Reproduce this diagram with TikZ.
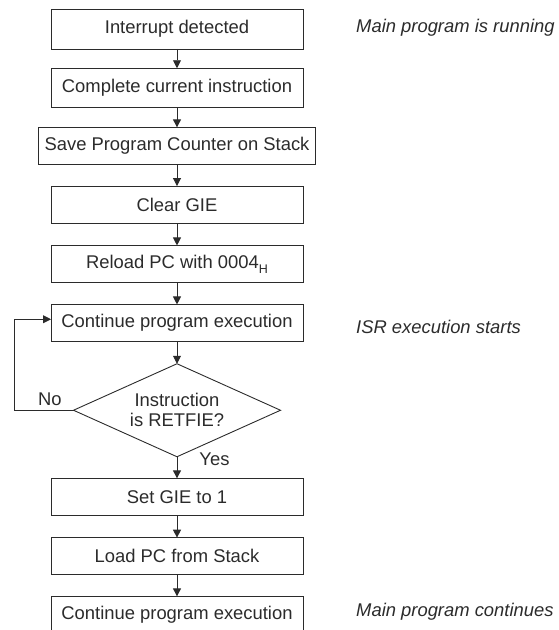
\documentclass[tikz,border=0pt]{standalone}
\usepackage{fontspec}
\setmainfont{Liberation Sans}
\usepackage{xcolor}
\usepackage{tikz}
\usetikzlibrary{positioning,shapes.geometric,arrows.meta}

\definecolor{ink}{HTML}{2B2B2B}

\newcommand{\hexsub}[1]{\raisebox{-5pt}{\fontsize{12.5}{12.5}\selectfont #1}}

\tikzset{
    stepbox/.style={draw=ink, line width=0.9pt, text=ink, minimum width=252pt, minimum height=37pt,
        inner xsep=6pt, inner ysep=3pt, outer sep=0pt, font=\fontsize{18.4}{20}\selectfont},
    decision/.style={draw=ink, line width=0.9pt, text=ink, diamond, aspect=2.23, inner sep=0pt, outer sep=0pt,
        minimum width=207pt, minimum height=93pt, align=center, font=\fontsize{18.4}{20}\selectfont},
    note/.style={text=ink, anchor=west, inner sep=0pt, font=\fontsize{18.4}{20}\selectfont\itshape},
    tag/.style={text=ink, inner sep=2pt, font=\fontsize{18.4}{20}\selectfont},
    flow/.style={draw=ink, line width=0.9pt, -{Triangle[length=8pt,width=8pt]}}
}

\begin{document}
\begin{tikzpicture}
    \useasboundingbox (0pt,0pt) rectangle (559pt,-630pt);

    % main flow
    \node[stepbox, minimum height=39.5pt] (detect) at (177pt,-29.2pt) {Interrupt detected};
    \node[stepbox, minimum height=39.5pt, below=19.3pt of detect] (finish) {Complete current instruction};
    \node[stepbox, below=19.6pt of finish] (save) {Save Program Counter on Stack};
    \node[stepbox, below=21.7pt of save] (clear) {Clear GIE};
    \node[stepbox, below=22.4pt of clear] (reload) {Reload PC with 0004\hexsub{H}};
    \node[stepbox, below=22pt of reload] (cont) {Continue program execution};
    \node[decision, below=22.3pt of cont] (retfie) {Instruction\\is RETFIE?};
    \node[stepbox, below=21.6pt of retfie] (setgie) {Set GIE to 1};
    \node[stepbox, below=22.3pt of setgie] (loadpc) {Load PC from Stack};
    \node[stepbox, below=21.7pt of loadpc] (resume) {Continue program execution};

    % notes on the right
    \node[note] (running) at (356pt,-28pt) {Main program is running};
    \node[note] (isr) at (356pt,-327pt) {ISR execution starts};
    \node[note] (continues) at (356pt,-612pt) {Main program continues};

    \draw[flow] (detect) -- (finish);
    \draw[flow] (finish) -- (save);
    \draw[flow] (save) -- (clear);
    \draw[flow] (clear) -- (reload);
    \draw[flow] (reload) -- (cont);
    \draw[flow] (cont) -- (retfie);
    \draw[flow] (retfie) -- node[tag, pos=0.12, right=20pt] {Yes} (setgie);
    \draw[flow] (setgie) -- (loadpc);
    \draw[flow] (loadpc) -- (resume);
    \draw[flow] (retfie.west) -- node[tag, pos=0.4, above=2pt] {No} ++(-59pt,0pt) |- ([yshift=3.7pt]cont.west);
\end{tikzpicture}
\end{document}
